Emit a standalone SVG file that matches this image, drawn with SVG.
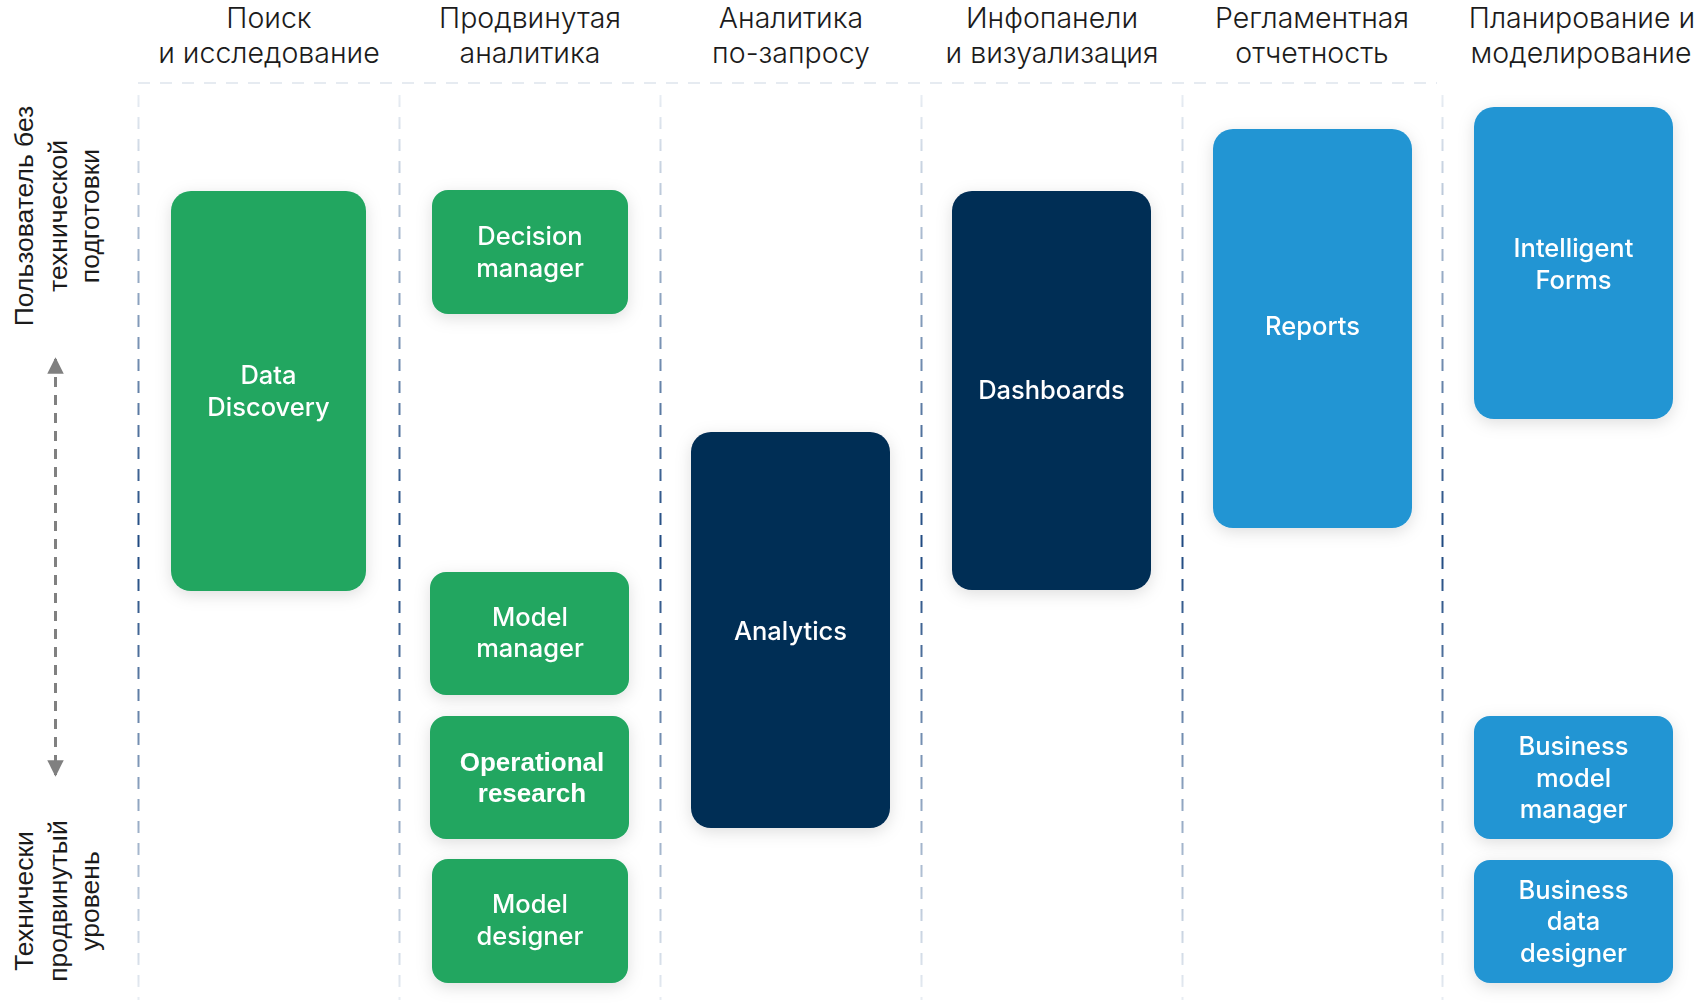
<svg xmlns="http://www.w3.org/2000/svg" width="1698" height="1004" viewBox="0 0 1698 1004">
<style>
.hdr{font-family:Inter,"Noto Sans",sans-serif;font-weight:300;font-size:28.5px;fill:#1b1b1b;text-anchor:middle}
.side{font-family:"Liberation Sans",Arial,sans-serif;font-size:26.5px;fill:#1b1b1b;text-anchor:middle}
.lbl{font-family:Inter,"Noto Sans",sans-serif;font-weight:500;font-size:25.5px;fill:#ffffff;text-anchor:middle}
.lblb{font-family:"Liberation Sans",Arial,sans-serif;font-weight:700;font-size:26px;fill:#ffffff;text-anchor:middle}
.g{fill:#21a661}
.n{fill:#042d54}
.b{fill:#2495d3}
.sep{stroke:url(#vg);stroke-width:2;stroke-dasharray:12 10;fill:none}
</style>
<defs>
<linearGradient id="vg" gradientUnits="userSpaceOnUse" x1="0" y1="95" x2="0" y2="1000">
<stop offset="0" stop-color="#e8edf3"/>
<stop offset="0.5" stop-color="#1d4880"/>
<stop offset="1" stop-color="#e8edf3"/>
</linearGradient>
<filter id="sh" x="-30%" y="-30%" width="160%" height="160%">
<feDropShadow dx="0" dy="4" stdDeviation="8" flood-color="#000" flood-opacity="0.13"/>
</filter>
<marker id="ah" viewBox="0 0 10 10" refX="9" refY="5" markerWidth="5.5" markerHeight="5.5" orient="auto-start-reverse" markerUnits="strokeWidth">
<path d="M0,0 L10,5 L0,10 z" fill="#808080"/>
</marker>
</defs>
<rect width="1698" height="1004" fill="#ffffff"/>

<g id="grid">
<line x1="138" y1="83" x2="1437" y2="83" stroke="#e6ebf1" stroke-width="2" stroke-dasharray="12 10"/>
<line class="sep" x1="138.5" y1="95" x2="138.5" y2="1000"/>
<line class="sep" x1="399.5" y1="95" x2="399.5" y2="1000"/>
<line class="sep" x1="660.5" y1="95" x2="660.5" y2="1000"/>
<line class="sep" x1="921.5" y1="95" x2="921.5" y2="1000"/>
<line class="sep" x1="1182.5" y1="95" x2="1182.5" y2="1000"/>
<line class="sep" x1="1442.5" y1="95" x2="1442.5" y2="1000"/>
</g>

<g id="headers">
<text class="hdr" x="269" y="28">Поиск</text>
<text class="hdr" x="269" y="63">и исследование</text>
<text class="hdr" x="530" y="28">Продвинутая</text>
<text class="hdr" x="530" y="63">аналитика</text>
<text class="hdr" x="791" y="28">Аналитика</text>
<text class="hdr" x="791" y="63">по-запросу</text>
<text class="hdr" x="1052" y="28">Инфопанели</text>
<text class="hdr" x="1052" y="63">и визуализация</text>
<text class="hdr" x="1312" y="28">Регламентная</text>
<text class="hdr" x="1312" y="63">отчетность</text>
<text class="hdr" x="1582" y="28">Планирование и</text>
<text class="hdr" x="1581" y="63">моделирование</text>
</g>

<g id="axis-top-label">
<text class="side" transform="translate(33,216) rotate(-90)">Пользователь без</text>
<text class="side" transform="translate(67,216) rotate(-90)">технической</text>
<text class="side" transform="translate(99,216) rotate(-90)">подготовки</text>
</g>
<g id="axis-bottom-label">
<text class="side" transform="translate(33,901) rotate(-90)">Технически</text>
<text class="side" transform="translate(67,901) rotate(-90)">продвинутый</text>
<text class="side" transform="translate(99,901) rotate(-90)">уровень</text>
</g>

<g id="connectors">
<line x1="55.5" y1="359" x2="55.5" y2="775" stroke="#808080" stroke-width="3" stroke-dasharray="10 8" marker-start="url(#ah)" marker-end="url(#ah)"/>
</g>

<g id="data-discovery" filter="url(#sh)">
<rect class="g" x="171" y="191" width="195" height="400" rx="20"/>
<text class="lbl" x="268.5" y="384">Data</text>
<text class="lbl" x="268.5" y="416">Discovery</text>
</g>
<g id="decision-manager" filter="url(#sh)">
<rect class="g" x="432" y="190" width="196" height="124" rx="16"/>
<text class="lbl" x="530" y="245">Decision</text>
<text class="lbl" x="530" y="277">manager</text>
</g>
<g id="model-manager" filter="url(#sh)">
<rect class="g" x="430" y="572" width="199" height="123" rx="16"/>
<text class="lbl" x="530" y="626">Model</text>
<text class="lbl" x="530" y="657">manager</text>
</g>
<g id="operational-research" filter="url(#sh)">
<rect class="g" x="430" y="716" width="199" height="123" rx="16"/>
<text class="lblb" x="532" y="771">Operational</text>
<text class="lblb" x="532" y="802">research</text>
</g>
<g id="model-designer" filter="url(#sh)">
<rect class="g" x="432" y="859" width="196" height="124" rx="16"/>
<text class="lbl" x="530" y="913">Model</text>
<text class="lbl" x="530" y="945">designer</text>
</g>
<g id="analytics" filter="url(#sh)">
<rect class="n" x="691" y="432" width="199" height="396" rx="20"/>
<text class="lbl" x="790.5" y="640">Analytics</text>
</g>
<g id="dashboards" filter="url(#sh)">
<rect class="n" x="952" y="191" width="199" height="399" rx="20"/>
<text class="lbl" x="1051.5" y="399">Dashboards</text>
</g>
<g id="reports" filter="url(#sh)">
<rect class="b" x="1213" y="129" width="199" height="399" rx="20"/>
<text class="lbl" x="1312.5" y="335">Reports</text>
</g>
<g id="intelligent-forms" filter="url(#sh)">
<rect class="b" x="1474" y="107" width="199" height="312" rx="20"/>
<text class="lbl" x="1573.5" y="257">Intelligent</text>
<text class="lbl" x="1573.5" y="289">Forms</text>
</g>
<g id="business-model-manager" filter="url(#sh)">
<rect class="b" x="1474" y="716" width="199" height="123" rx="16"/>
<text class="lbl" x="1573.5" y="755">Business</text>
<text class="lbl" x="1573.5" y="787">model</text>
<text class="lbl" x="1573.5" y="818">manager</text>
</g>
<g id="business-data-designer" filter="url(#sh)">
<rect class="b" x="1474" y="860" width="199" height="123" rx="16"/>
<text class="lbl" x="1573.5" y="899">Business</text>
<text class="lbl" x="1573.5" y="930">data</text>
<text class="lbl" x="1573.5" y="962">designer</text>
</g>
</svg>
